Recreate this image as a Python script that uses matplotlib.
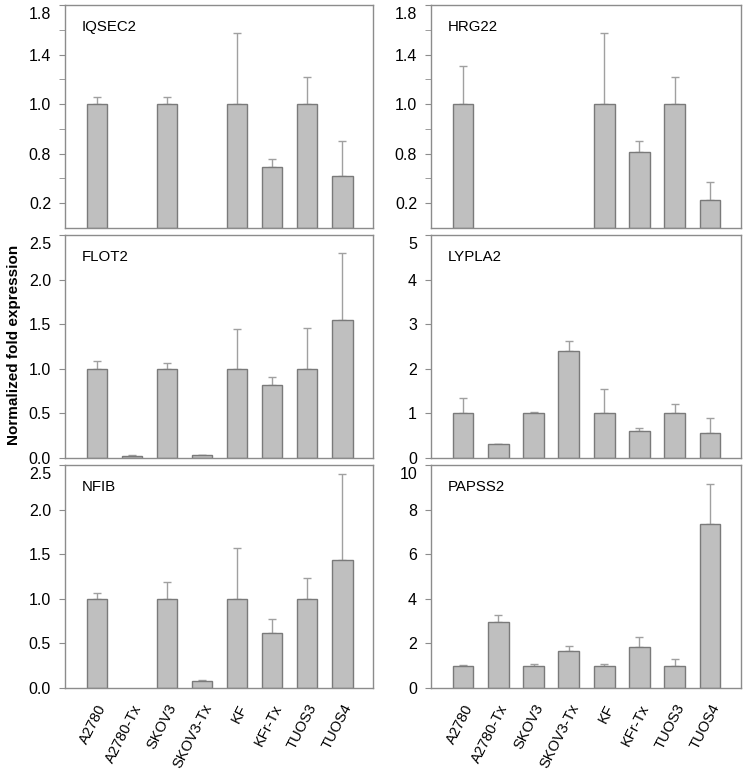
import numpy as np
import matplotlib
matplotlib.use("Agg")
import matplotlib.pyplot as plt
import matplotlib.transforms as mtransforms

plt.rcParams["font.family"] = ["Liberation Sans", "DejaVu Sans"]

# --------------------------------------------------
# Datos
# --------------------------------------------------
lineas = ["A2780", "A2780-Tx", "SKOV3", "SKOV3-Tx", "KF", "KFr-Tx", "TUOS3", "TUOS4"]
nan = np.nan

iqsec2 = [1.0, nan, 1.0, nan, 1.0, 0.49, 1.0, 0.42]
iqsec2_err = [0.06, nan, 0.06, nan, 0.57, 0.07, 0.22, 0.28]

hrg22 = [1.0, nan, nan, nan, 1.0, 0.61, 1.0, 0.225]
hrg22_err = [0.31, nan, nan, nan, 0.57, 0.09, 0.22, 0.15]

flot2 = [1.0, 0.027, 1.0, 0.03, 1.0, 0.816, 1.0, 1.545]
flot2_err = [0.09, 0.005, 0.06, 0.006, 0.45, 0.09, 0.455, 0.755]

lypla2 = [1.0, 0.31, 1.0, 2.40, 1.0, 0.60, 1.0, 0.555]
lypla2_err = [0.35, 0.01, 0.04, 0.22, 0.55, 0.08, 0.215, 0.345]

nfib = [1.0, nan, 1.0, 0.075, 1.0, 0.62, 1.0, 1.434]
nfib_err = [0.07, nan, 0.19, 0.01, 0.57, 0.15, 0.23, 0.96]

papss2 = [1.0, 2.94, 1.0, 1.67, 1.0, 1.85, 1.0, 7.37]
papss2_err = [0.04, 0.33, 0.09, 0.20, 0.07, 0.42, 0.30, 1.76]

# ticks del eje y de la fila superior (etiquetas tal como aparecen)
top_ticks = [0.2, 0.6, 1.0, 1.4, 1.8]
top_labels = ["0.2", "0.8", "1.0", "1.4", "1.8"]

paneles = [
    ("IQSEC2", iqsec2, iqsec2_err, 1.8),
    ("HRG22", hrg22, hrg22_err, 1.8),
    ("FLOT2", flot2, flot2_err, 2.5),
    ("LYPLA2", lypla2, lypla2_err, 5),
    ("NFIB", nfib, nfib_err, 2.5),
    ("PAPSS2", papss2, papss2_err, 10),
]

# --------------------------------------------------
# Figura
# --------------------------------------------------
W, H = 745, 773
fig = plt.figure(figsize=(W / 100, H / 100), dpi=100)

cols = [(65, 373), (431, 741)]
rows = [(5, 228), (235, 458), (465, 688)]

frame_color = "#8c8c8c"
bar_color = "#bfbfbf"
edge_color = "#7a7a7a"
err_color = "#a0a0a0"

x = np.arange(len(lineas))

for i, (nombre, vals, errs, ymax) in enumerate(paneles):
    r, c = divmod(i, 2)
    x0, x1 = cols[c]
    y0, y1 = rows[r]
    ax = fig.add_axes([x0 / W, 1 - y1 / H, (x1 - x0) / W, (y1 - y0) / H])

    vals = np.array(vals, dtype=float)
    errs = np.array(errs, dtype=float)
    ok = ~np.isnan(vals)

    ax.bar(x[ok], vals[ok], width=0.59, color=bar_color,
           edgecolor=edge_color, linewidth=1.0, zorder=2)
    ax.errorbar(x[ok], vals[ok], yerr=[np.zeros(ok.sum()), errs[ok]],
                fmt="none", ecolor=err_color, elinewidth=1.0,
                capsize=3, capthick=1.0, zorder=1)

    ax.set_xlim(-0.91, 7.88)
    ax.set_ylim(0, ymax)

    if r == 0:
        ax.set_yticks(top_ticks)
        ax.set_yticklabels(top_labels)
        ax.set_yticks([0.4, 0.8, 1.2, 1.6], minor=True)
    elif ymax == 2.5:
        ax.set_yticks([0, 0.5, 1.0, 1.5, 2.0, 2.5])
        ax.set_yticklabels(["0.0", "0.5", "1.0", "1.5", "2.0", "2.5"])
    elif ymax == 5:
        ax.set_yticks([0, 1, 2, 3, 4, 5])
    else:
        ax.set_yticks([0, 2, 4, 6, 8, 10])

    ax.tick_params(axis="y", which="both", direction="out", length=4,
                   color=frame_color, labelsize=11.5, pad=6)

    # la etiqueta superior aparece un poco mas abajo en el original
    top_lab = ax.get_yticklabels()[-1]
    top_lab.set_transform(top_lab.get_transform() +
                          mtransforms.ScaledTranslation(0, -8 / 100, fig.dpi_scale_trans))

    if r == 2:
        ax.set_xticks(x)
        ax.set_xticklabels(lineas, rotation=63, ha="right", va="top",
                           rotation_mode="anchor", fontsize=10.5)
        ax.tick_params(axis="x", length=0, pad=10)
    else:
        ax.set_xticks([])

    for s in ax.spines.values():
        s.set_color(frame_color)
        s.set_linewidth(1.0)

    ax.text(0.055, 0.9, nombre, transform=ax.transAxes, fontsize=10.8,
            va="center", ha="left")

fig.text(14 / W, 1 - 345 / H, "Normalized fold expression", rotation=90,
         fontsize=11, fontweight="bold", ha="center", va="center")

fig.savefig("out.png", dpi=100)
